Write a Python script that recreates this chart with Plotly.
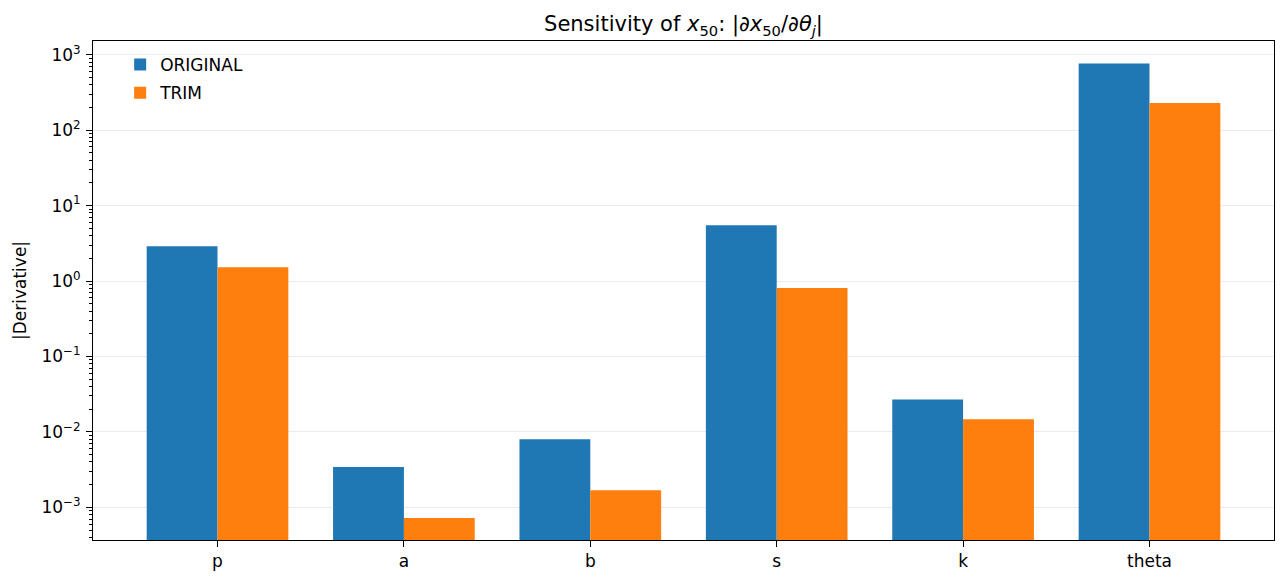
import plotly.graph_objects as go

params = ['p', 'a', 'b', 's', 'k', 'theta']
original = [2.9, 3.42e-3, 8.0e-3, 5.5, 0.0270, 766]
trim = [1.53, 7.2e-4, 1.69e-3, 0.81, 0.0147, 229]

decades = [-3, -2, -1, 0, 1, 2, 3]
tick_vals = [10.0 ** d for d in decades]
tick_text = ['10<sup>%s</sup>' % str(d).replace('-', '\u2212') for d in decades]
minor_vals = [m * 10.0 ** d for d in range(-4, 4) for m in range(2, 10)]

fnt = 'DejaVu Sans, sans-serif'

fig = go.Figure()
fig.add_trace(go.Bar(x=params, y=original, name='ORIGINAL', legendgroup='orig',
                     marker=dict(color='#1f77b4', line_width=0)))
fig.add_trace(go.Bar(x=params, y=trim, name='TRIM', legendgroup='trim',
                     marker=dict(color='#ff7f0e', line_width=0)))

# page body has an 8px margin, so the figure is shrunk by that much
fig.update_layout(
    width=1279, height=576,
    margin=dict(l=85, r=13, t=33, b=44),
    paper_bgcolor='white', plot_bgcolor='white',
    barmode='group', bargap=0.24, bargroupgap=0,
    font=dict(family=fnt, size=17, color='black'),
    title=dict(
        text='Sensitivity of <i>x</i><sub>50</sub>: |\u2202<i>x</i><sub>50</sub>/\u2202<i>\u03b8</i><sub><i>j</i></sub>|',
        x=0.5, xanchor='center', xref='paper', yref='container', y=0.972, yanchor='middle',
        font=dict(size=21, family=fnt)),
    legend=dict(x=0.023, y=0.988, xanchor='left', yanchor='top',
                bgcolor='rgba(0,0,0,0)', font=dict(size=17), tracegroupgap=3),
    xaxis=dict(
        range=[-0.668, 5.668], showgrid=False, ticks='outside', ticklen=6,
        tickcolor='black', showline=True, linecolor='black', linewidth=1, mirror=True,
        tickfont=dict(size=17)),
    yaxis=dict(
        type='log', range=[-3.433, 3.183], tickvals=tick_vals, ticktext=tick_text,
        ticks='outside', ticklen=6, tickcolor='black', showline=True,
        linecolor='black', linewidth=1, mirror=True, ticklabelstandoff=2,
        showgrid=True, gridcolor='#ebebeb', gridwidth=1,
        minor=dict(tickvals=minor_vals, ticks='outside', ticklen=3.5, tickcolor='black', showgrid=False),
        title=dict(text='|Derivative|', font=dict(size=17), standoff=10),
        tickfont=dict(size=17)),
)

fig.write_html('out.html')
